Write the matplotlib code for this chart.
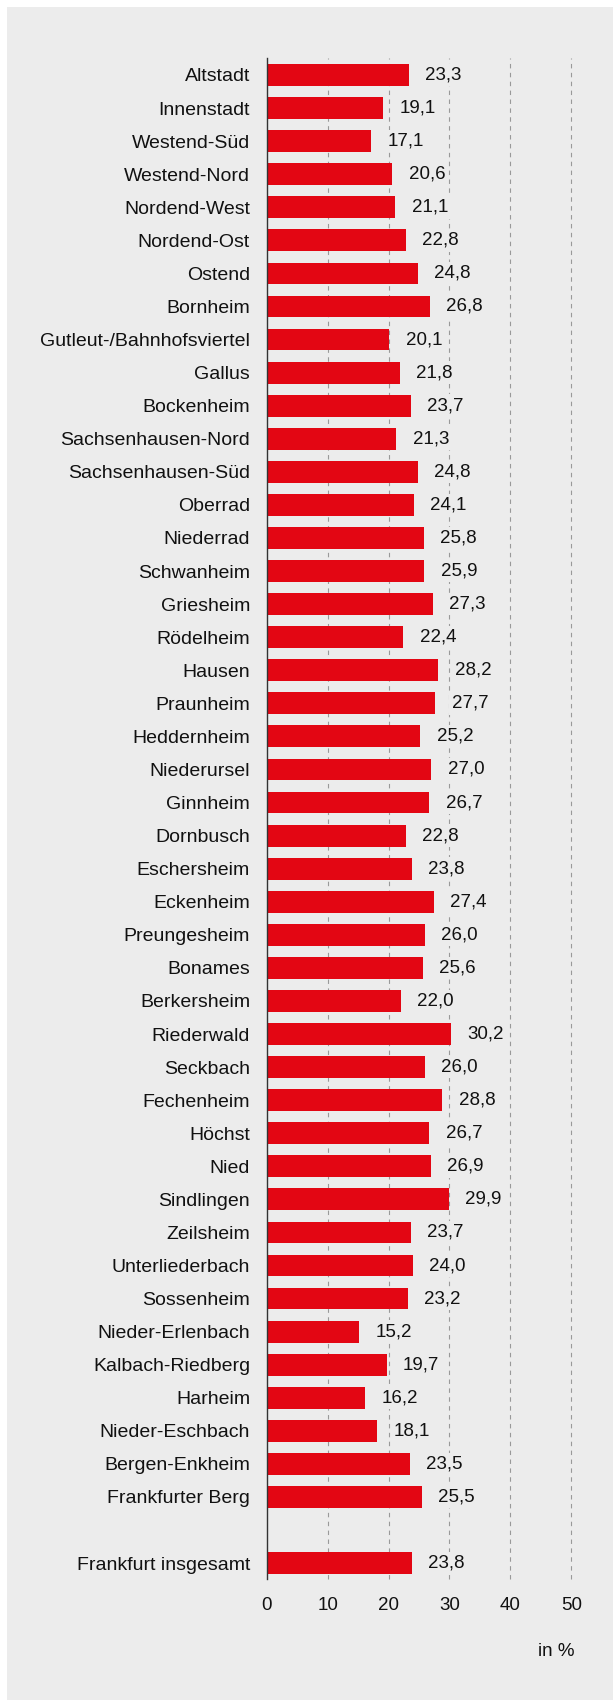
import matplotlib
matplotlib.use("Agg")
import matplotlib.pyplot as plt
from matplotlib.patches import Rectangle

# Stadtteile und Werte (in %)
districts = ["Altstadt", "Innenstadt", "Westend-Süd", "Westend-Nord", "Nordend-West",
             "Nordend-Ost", "Ostend", "Bornheim", "Gutleut-/Bahnhofsviertel", "Gallus",
             "Bockenheim", "Sachsenhausen-Nord", "Sachsenhausen-Süd", "Oberrad", "Niederrad",
             "Schwanheim", "Griesheim", "Rödelheim", "Hausen", "Praunheim", "Heddernheim",
             "Niederursel", "Ginnheim", "Dornbusch", "Eschersheim", "Eckenheim", "Preungesheim",
             "Bonames", "Berkersheim", "Riederwald", "Seckbach", "Fechenheim", "Höchst", "Nied",
             "Sindlingen", "Zeilsheim", "Unterliederbach", "Sossenheim", "Nieder-Erlenbach",
             "Kalbach-Riedberg", "Harheim", "Nieder-Eschbach", "Bergen-Enkheim", "Frankfurter Berg"]
values = [23.3, 19.1, 17.1, 20.6, 21.1, 22.8, 24.8, 26.8, 20.1, 21.8,
          23.7, 21.3, 24.8, 24.1, 25.8, 25.9, 27.3, 22.4, 28.2, 27.7,
          25.2, 27.0, 26.7, 22.8, 23.8, 27.4, 26.0, 25.6, 22.0, 30.2,
          26.0, 28.8, 26.7, 26.9, 29.9, 23.7, 24.0, 23.2, 15.2, 19.7,
          16.2, 18.1, 23.5, 25.5]
total_label = "Frankfurt insgesamt"
total_value = 23.8
x_ticks = [0, 10, 20, 30, 40, 50]

BG = "#ececec"
RED = "#e30613"
TXT = "#111111"

plt.rcParams['font.family'] = ['Liberation Sans', 'DejaVu Sans']

fig = plt.figure(figsize=(6.13, 17.0), dpi=100)
fig.patch.set_facecolor("white")
fig.patches.append(Rectangle((7 / 613, 0), 1 - 7 / 613, 1 - 7 / 1700,
                             transform=fig.transFigure, facecolor=BG,
                             edgecolor="none", zorder=-10))

ax = fig.add_axes([266.7 / 613, 1 - 1579 / 1700, 304.6 / 613, 1521 / 1700])
ax.set_facecolor("none")

labels = districts + [total_label]
vals = values + [total_value]
ypos = list(range(len(districts))) + [len(districts) + 1]

ax.barh(ypos, vals, height=0.66, color=RED, zorder=3)

for y, v in zip(ypos, vals):
    ax.annotate(f"{v:.1f}".replace(".", ","), xy=(v, y), xytext=(11.8, 0),
                textcoords="offset points", va="center", ha="left",
                fontsize=13.5, color=TXT, zorder=4,
                bbox=dict(boxstyle="square,pad=0.15", fc=BG, ec="none"))

ax.set_xlim(0, 50)
ax.set_ylim(45.48, -0.514)
ax.set_yticks(ypos)
ax.set_yticklabels(labels, fontsize=14, color=TXT)
ax.set_xticks(x_ticks)
ax.set_xticklabels([str(t) for t in x_ticks], fontsize=13.5, color=TXT)
ax.tick_params(axis="both", length=0)
ax.tick_params(axis="y", pad=12)
ax.tick_params(axis="x", pad=13)

for t in x_ticks[1:]:
    ax.axvline(t, color="#999999", lw=0.8, ls=(0, (4, 4)), zorder=1, clip_on=False)

for side in ["top", "right", "bottom"]:
    ax.spines[side].set_visible(False)
ax.spines["left"].set_color("#333333")
ax.spines["left"].set_linewidth(1.0)
ax.spines["left"].set_zorder(5)

fig.text(574 / 613, 1 - 1652 / 1700, "in %", ha="right", va="center",
         fontsize=13.5, color=TXT)

fig.savefig("out.png", dpi=100)
